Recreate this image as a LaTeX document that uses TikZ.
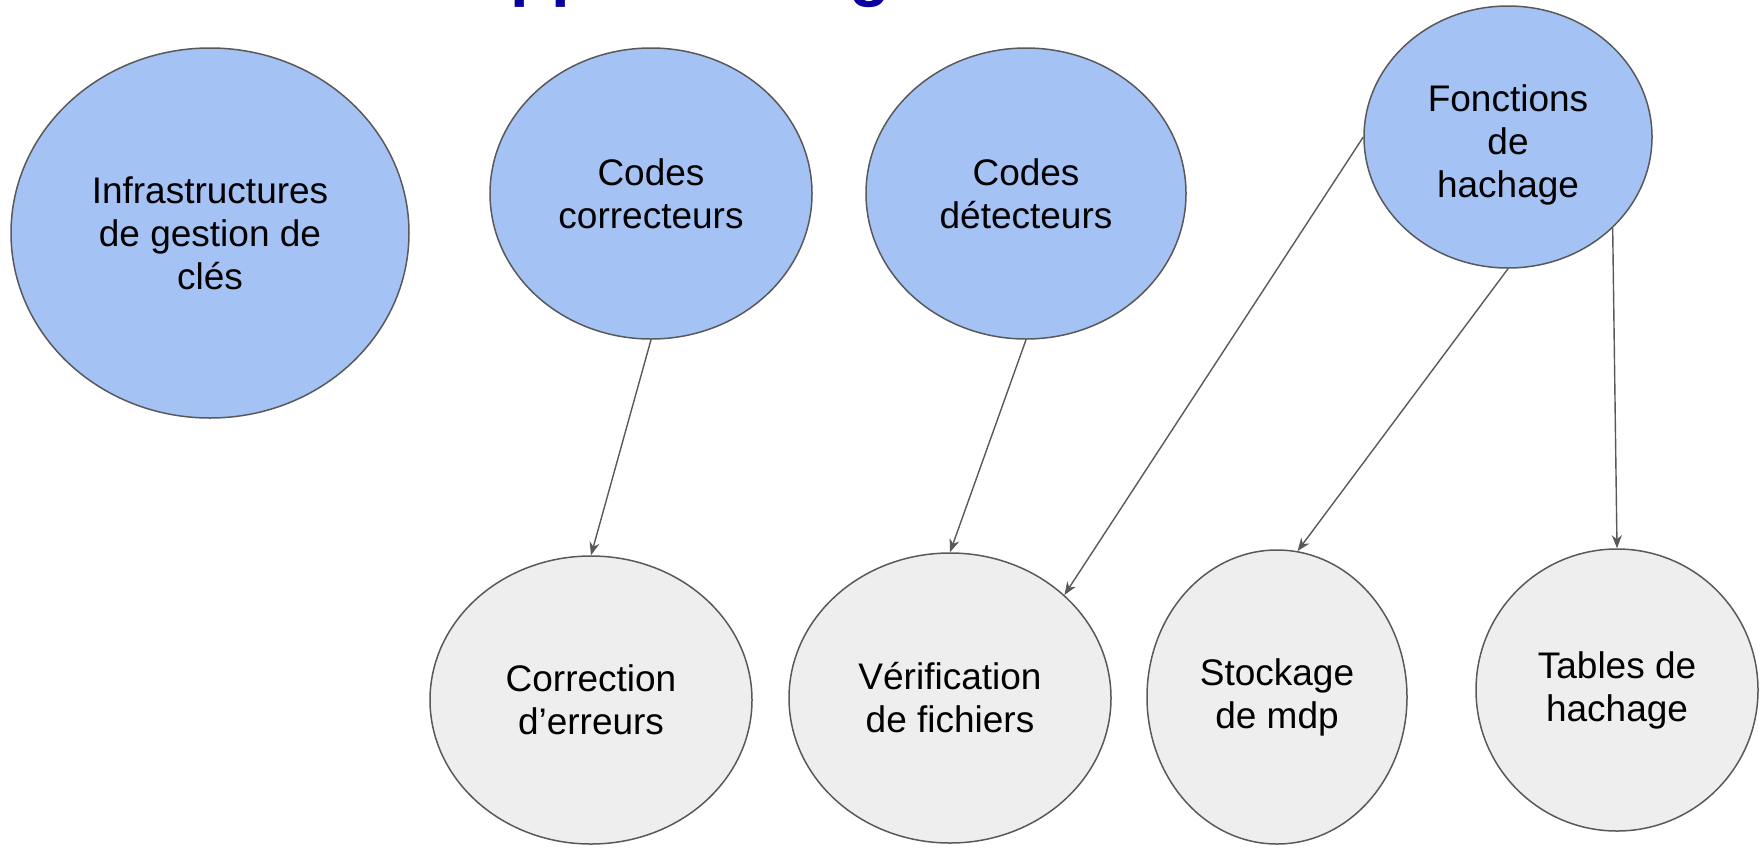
\documentclass[tikz,border=0pt]{standalone}
\usepackage{fontspec}
\setmainfont{Liberation Sans}
\usetikzlibrary{shapes.geometric,arrows.meta}
\definecolor{topicblue}{HTML}{A4C2F4}
\definecolor{usegray}{HTML}{EEEEEE}
\definecolor{edgegray}{HTML}{595959}
\definecolor{titleblue}{HTML}{0A00A0}
\tikzset{
  bubble/.style={ellipse, draw=edgegray, line width=0.75pt, inner sep=0pt,
    align=center, font=\fontsize{18.5}{21.5}\selectfont},
  topic/.style={bubble, fill=topicblue},
  usage/.style={bubble, fill=usegray},
  link/.style={draw=edgegray, line width=0.7pt,
    -{Stealth[length=6.5pt,width=5pt,inset=2pt]}},
}
\begin{document}
\begin{tikzpicture}[x=0.5pt,y=-0.5pt]
\useasboundingbox (0,0) rectangle (1760,847);
% slide title, mostly above the visible area
\node[anchor=base west, text=titleblue, inner sep=0pt,
  font=\fontsize{33.5}{40}\selectfont\bfseries] (title) at (462,-7) {Apprentissage};

% tools
\node[topic, minimum width=199pt, minimum height=185pt] (ik) at (210,233)
  {Infrastructures\\de gestion de\\clés};
\node[topic, minimum width=161pt, minimum height=145.5pt] (cc) at (651,193.5)
  {Codes\\correcteurs};
\node[topic, minimum width=160pt, minimum height=145.5pt] (cd) at (1026,193.5)
  {Codes\\détecteurs};
\node[topic, minimum width=144pt, minimum height=131pt] (fh) at (1508,137)
  {\rule{0pt}{21.6pt}Fonctions\\de\\hachage};

% uses
\node[usage, minimum width=161pt, minimum height=144pt] (ce) at (591,700)
  {Correction\\d’erreurs};
\node[usage, minimum width=161pt, minimum height=145pt] (vf) at (950,698)
  {Vérification\\de fichiers};
\node[usage, minimum width=130pt, minimum height=147pt] (sm) at (1277,697)
  {Stockage\\de mdp};
\node[usage, minimum width=141pt, minimum height=141pt] (th) at (1617,690)
  {Tables de\\hachage};

% links
\draw[link] (cc.south) -- (ce.north);
\draw[link] (cd.south) -- (vf.north);
\draw[link] (fh.west) -- (vf.42);
\draw[link] (fh.south) -- (sm.82);
\draw[link] (fh.-41) -- (th.north);
\end{tikzpicture}
\end{document}
